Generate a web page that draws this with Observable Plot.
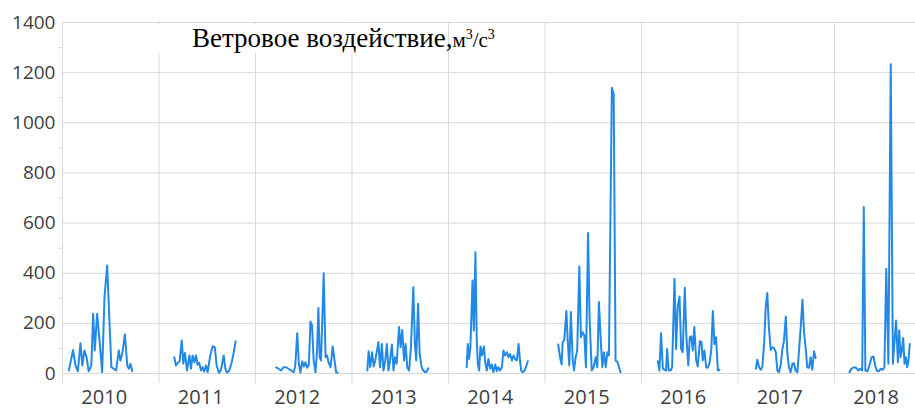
<!DOCTYPE html>
<html>
<head>
<meta charset="utf-8">
<script src="https://cdn.jsdelivr.net/npm/d3@7"></script>
<script src="https://cdn.jsdelivr.net/npm/@observablehq/plot@0.6"></script>
<style>
  body { margin: 0; background: #fff; }
  #chart { position: relative; width: 915px; height: 410px; overflow: hidden; }
  #title-box { position: absolute; left: 150px; top: 24px; width: 270px; height: 29px; background: #fff; }
  #title {
    position: absolute; left: 192px; top: 25px; white-space: nowrap; color: #000;
    font-family: "Liberation Serif", "Times New Roman", serif; font-size: 27px; line-height: 1;
  }
  #title .unit { font-size: 21px; }
  #title sup { font-size: 14px; vertical-align: 0.55em; line-height: 0; }
</style>
</head>
<body>
<div id="chart">
</div>
<script>
// Season-by-season wind impact, m³/s³: [day of year, value] for each year
const years = [2010, 2011, 2012, 2013, 2014, 2015, 2016, 2017, 2018];

const w2010 = [[24,12],[40,94],[49,32],[58,9],[68,121],[75,32],[83,92],[91,65],[99,9],[109,32],[116,238],[122,92],[131,238],[140,132],[150,5],[159,305],[169,431],[178,198],[185,25],[194,19],[203,12],[213,92],[219,52],[226,78],[236,156],[245,32],[251,19],[257,39],[264,9]];
const w2011 = [[58,65],[64,32],[73,45],[78,48],[86,132],[92,39],[98,82],[106,12],[115,72],[121,19],[127,72],[134,45],[140,72],[146,35],[152,43],[159,12],[165,25],[171,8],[178,32],[184,5],[194,72],[203,109],[211,105],[218,32],[227,3],[234,12],[245,72],[251,19],[257,3],[266,12],[275,45],[283,85],[290,129]];
const w2012 = [[78,25],[87,19],[97,12],[106,25],[116,25],[125,19],[135,12],[144,5],[150,25],[158,161],[164,39],[170,4],[177,49],[183,28],[189,45],[196,23],[202,36],[208,207],[214,192],[220,52],[227,5],[233,92],[238,261],[243,65],[248,52],[258,400],[265,65],[271,72],[276,45],[284,25],[292,108],[299,52],[305,5],[311,3]];
const w2013 = [[58,12],[63,89],[69,25],[76,85],[82,28],[88,52],[95,94],[100,125],[106,25],[113,118],[119,12],[126,52],[132,118],[138,12],[144,52],[151,116],[157,12],[163,65],[169,39],[178,185],[184,105],[190,174],[197,52],[203,118],[209,25],[216,12],[223,105],[232,344],[238,118],[243,52],[250,278],[256,78],[264,23],[270,12],[276,5],[283,8],[289,21]];
const w2014 = [[69,25],[73,118],[78,58],[83,105],[91,371],[96,172],[102,484],[107,132],[111,39],[116,12],[121,108],[127,72],[134,108],[139,45],[145,12],[151,58],[158,19],[164,36],[170,5],[177,36],[183,9],[189,25],[195,12],[202,25],[208,92],[214,72],[221,85],[227,65],[233,78],[240,52],[246,72],[252,58],[259,52],[265,118],[270,58],[275,12],[281,5],[288,12],[294,28],[300,49]];
const w2015 = [[50,116],[57,65],[63,36],[67,125],[73,132],[81,249],[86,132],[92,32],[98,245],[105,52],[110,12],[116,65],[122,92],[130,427],[136,145],[142,165],[149,152],[155,25],[163,560],[169,211],[177,12],[184,25],[192,65],[198,25],[204,285],[211,132],[217,25],[223,85],[230,25],[236,85],[242,72],[253,1140],[260,1115],[267,52],[275,45],[280,25],[286,5]];
const w2016 = [[62,49],[68,12],[74,161],[81,19],[87,15],[93,12],[97,98],[103,12],[110,12],[116,25],[125,378],[131,98],[137,265],[144,307],[150,98],[156,85],[164,342],[170,145],[177,32],[183,145],[189,148],[194,92],[200,185],[207,52],[213,28],[221,129],[227,125],[232,52],[238,92],[245,25],[251,23],[257,39],[264,92],[270,249],[276,118],[282,145],[289,12],[295,15]];
const w2017 = [[68,19],[73,55],[80,25],[86,15],[92,25],[99,118],[105,265],[111,321],[117,185],[124,94],[130,105],[136,102],[143,85],[149,12],[155,5],[162,36],[168,98],[174,129],[181,227],[187,78],[193,25],[199,5],[206,39],[212,41],[218,12],[225,5],[231,92],[237,178],[244,294],[250,165],[256,105],[262,25],[269,23],[275,65],[281,15],[288,89],[294,62]];
const w2018 = [[57,5],[64,19],[73,25],[82,23],[90,12],[97,19],[105,12],[111,664],[117,12],[125,9],[132,32],[140,63],[148,68],[154,32],[160,12],[168,9],[175,19],[183,15],[189,25],[196,418],[204,39],[213,1233],[221,39],[227,125],[233,211],[240,45],[245,172],[250,65],[255,92],[260,142],[265,39],[270,65],[275,25],[280,52],[285,118]];

const yTicks = [0, 200, 400, 600, 800, 1000, 1200, 1400];
const yMinorTicks = [100, 300, 500, 700, 900, 1100, 1300];
const titleText = "Ветровое воздействие,";

const seasons = [w2010, w2011, w2012, w2013, w2014, w2015, w2016, w2017, w2018];

// one row per observation; x is the year plus the fraction of the year elapsed
const rows = years.flatMap((year, i) =>
  seasons[i].map(([day, value]) => ({year, t: year + day / 365, value}))
);

const gridColor = "#d9d9d9";
const textColor = "#404040";

const chart = Plot.plot({
  width: 915,
  height: 410,
  marginLeft: 62,
  marginRight: 0,
  marginTop: 22,
  marginBottom: 37,
  style: {fontFamily: "'Open Sans', sans-serif", fontSize: "19px", background: "#fff", color: textColor},
  x: {domain: [2010, 2018.84], axis: null},
  y: {domain: [0, 1400], axis: null},
  marks: [
    Plot.ruleY(yTicks, {stroke: gridColor, strokeWidth: 1}),
    // year separators, reaching a little below the zero line
    Plot.ruleX(years, {stroke: gridColor, strokeWidth: 1, insetBottom: -10}),
    Plot.axisY({ticks: yMinorTicks, tickSize: 4, tickFormat: () => "", stroke: gridColor, label: null}),
    Plot.axisY({ticks: yTicks, tickSize: 0, tickPadding: 7, tickFormat: (d) => String(d), fill: textColor, fontSize: 19, label: null}),
    Plot.axisX({
      ticks: years.map((y) => y + 0.5),
      tickSize: 0,
      tickPadding: 16,
      dx: -6.5,
      tickFormat: (d) => String(Math.floor(d)),
      fill: textColor,
      fontSize: 20,
      label: null
    }),
    Plot.line(rows, {x: "t", y: "value", z: "year", stroke: "#2389e6", strokeWidth: 2, strokeLinejoin: "round"})
  ]
});

const root = document.getElementById("chart");
root.appendChild(chart);

const box = document.createElement("div");
box.id = "title-box";
root.appendChild(box);

const title = document.createElement("div");
title.id = "title";
title.innerHTML = titleText + '<span class="unit">м<sup>3</sup>/с<sup>3</sup></span>';
root.appendChild(title);
</script>
</body>
</html>
